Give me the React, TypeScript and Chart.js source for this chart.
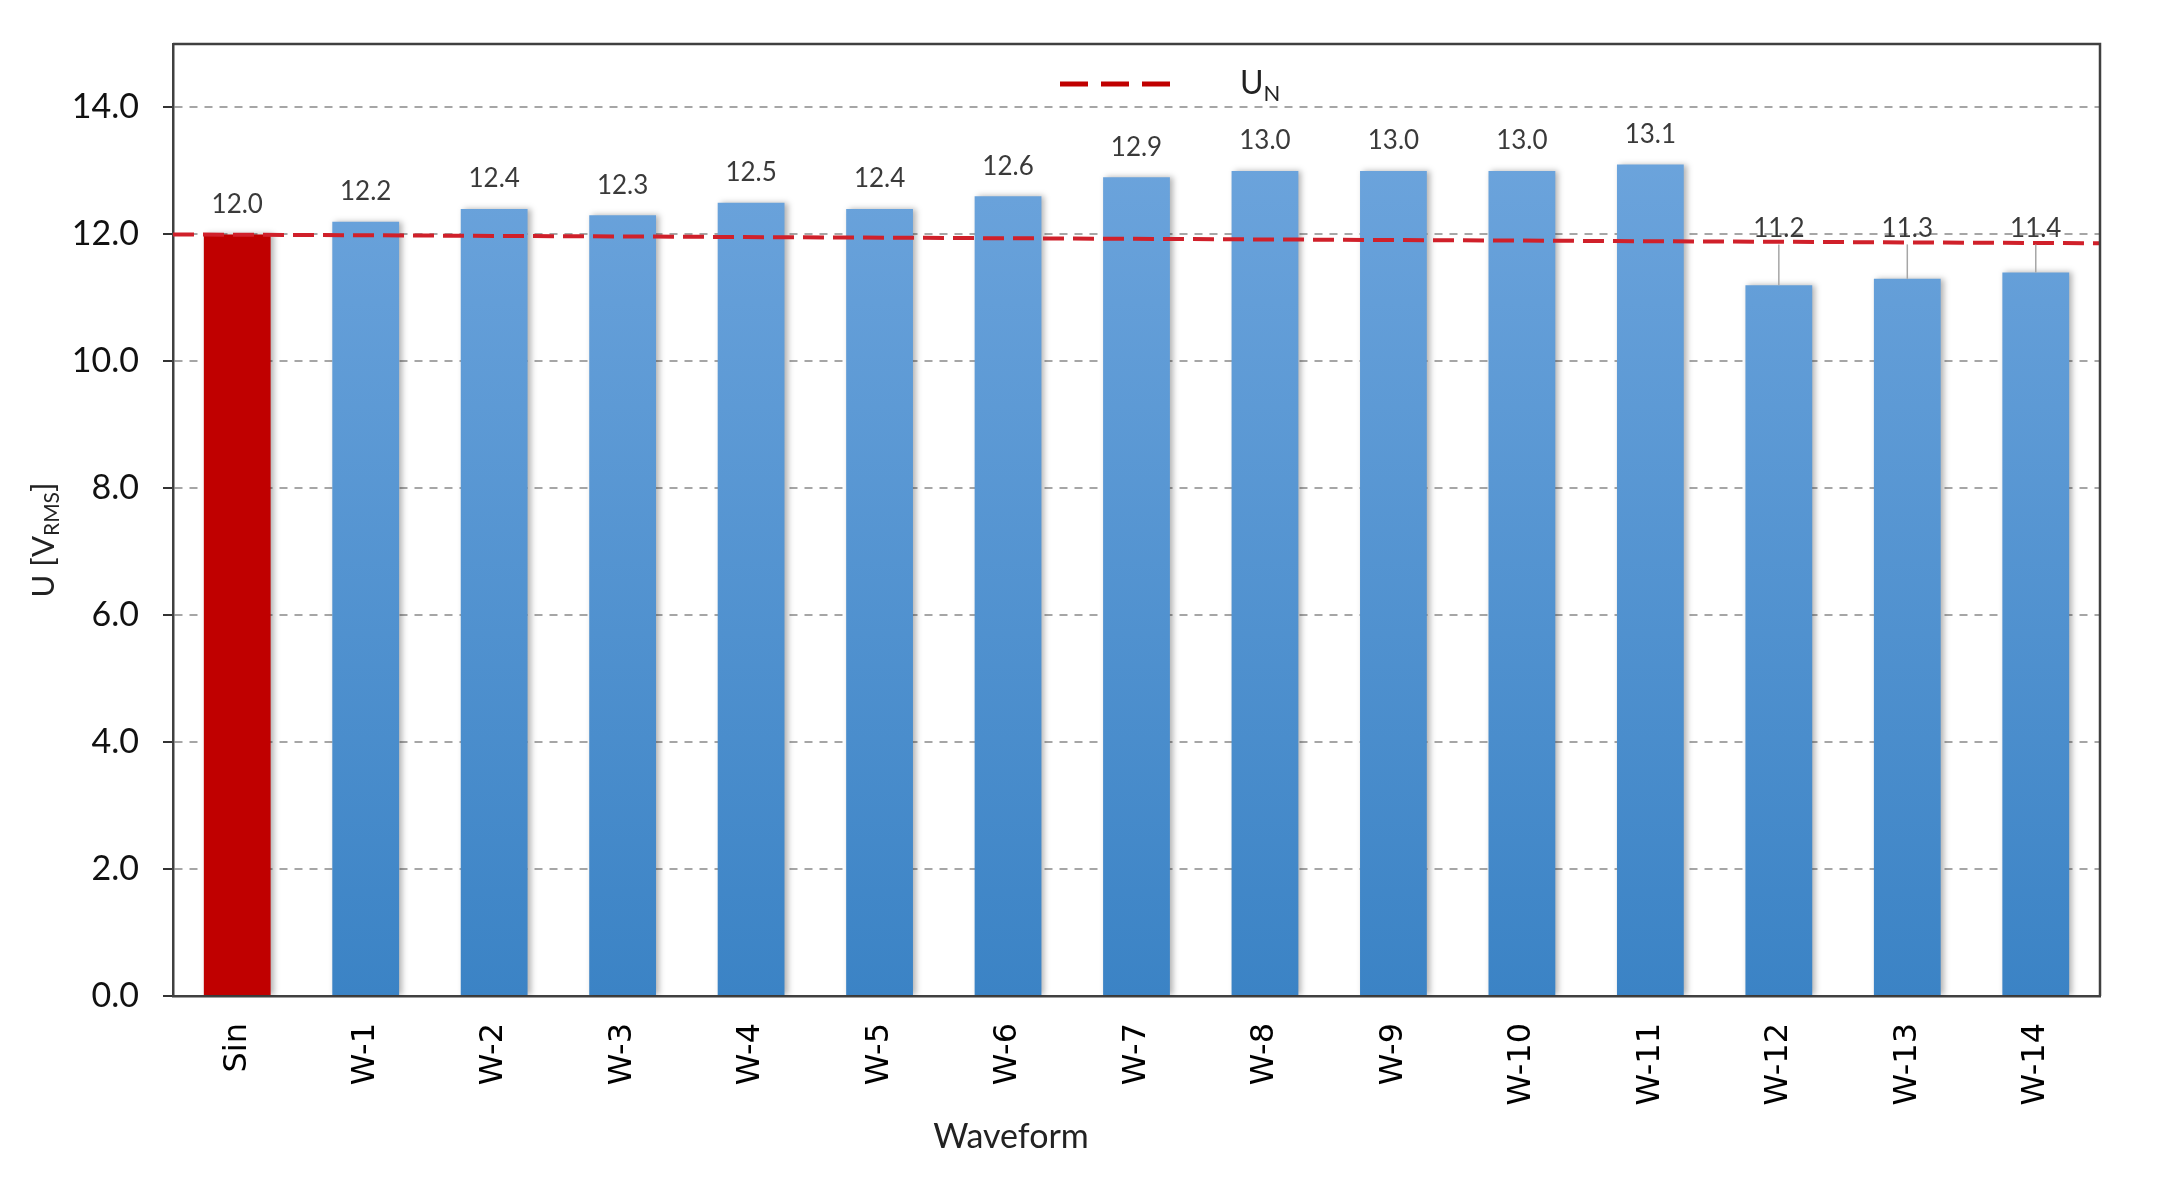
import React, { useEffect, useRef } from "react";
import { Chart, registerables } from "chart.js";

Chart.register(...registerables);

const categories = ["Sin", "W-1", "W-2", "W-3", "W-4", "W-5", "W-6", "W-7", "W-8", "W-9", "W-10", "W-11", "W-12", "W-13", "W-14"];
const voltages = [12.0, 12.2, 12.4, 12.3, 12.5, 12.4, 12.6, 12.9, 13.0, 13.0, 13.0, 13.1, 11.2, 11.3, 11.4];
const yTickValues = [0, 2, 4, 6, 8, 10, 12, 14];
const unLineX = [-0.5, 14.5];
const unLineY = [12.0, 11.86];
const nominalVoltage = 12.0;

const overlayPlugin = {
  id: "overlay",
  beforeDatasetDraw(chart: any, args: any) {
    if (args.index === 0) {
      const ctx = chart.ctx;
      ctx.save();
      ctx.shadowColor = "rgba(0,0,0,0.30)";
      ctx.shadowBlur = 6;
      ctx.shadowOffsetX = 3;
      ctx.shadowOffsetY = 0;
    }
  },
  afterDatasetDraw(chart: any, args: any) {
    if (args.index === 0) chart.ctx.restore();
  },
  afterDatasetsDraw(chart: any) {
    const ctx = chart.ctx;
    const meta = chart.getDatasetMeta(0);
    const yScale = chart.scales.y;
    ctx.save();
    ctx.font = "26px Lato";
    ctx.fillStyle = "#3A3A3A";
    ctx.textAlign = "center";
    ctx.textBaseline = "middle";
    meta.data.forEach((bar: any, i: number) => {
      const v = voltages[i];
      const text = v.toFixed(1);
      if (v < nominalVoltage - 0.3) {
        const ly = yScale.getPixelForValue(nominalVoltage) - 6;
        ctx.strokeStyle = "#A6A6A6";
        ctx.lineWidth = 1.5;
        ctx.beginPath();
        ctx.moveTo(bar.x, ly + 16);
        ctx.lineTo(bar.x, bar.y);
        ctx.stroke();
        ctx.fillText(text, bar.x, ly);
      } else {
        ctx.fillText(text, bar.x, bar.y - 30);
      }
    });
    ctx.restore();
  },
  afterDraw(chart: any) {
    const ctx = chart.ctx;
    const ca = chart.chartArea;
    ctx.save();
    // frame top & right
    ctx.strokeStyle = "#404040";
    ctx.lineWidth = 2.5;
    ctx.beginPath();
    ctx.moveTo(ca.left, ca.top);
    ctx.lineTo(ca.right, ca.top);
    ctx.lineTo(ca.right, ca.bottom);
    ctx.stroke();

    // legend
    ctx.strokeStyle = "#C00000";
    ctx.lineWidth = 5;
    ctx.setLineDash([28, 13]);
    ctx.beginPath();
    ctx.moveTo(1060, 84);
    ctx.lineTo(1170, 84);
    ctx.stroke();
    ctx.setLineDash([]);
    ctx.fillStyle = "#222";
    ctx.textBaseline = "middle";
    ctx.textAlign = "left";
    ctx.font = "32px Lato";
    ctx.fillText("U", 1240, 84);
    const uw = ctx.measureText("U").width;
    ctx.font = "22px Lato";
    ctx.fillText("N", 1240 + uw, 94);

    // x title
    ctx.font = "34px Lato";
    ctx.textAlign = "center";
    ctx.fillText("Waveform", 1011, 1137);

    // y title
    ctx.translate(44, 540);
    ctx.rotate(-Math.PI / 2);
    ctx.textAlign = "left";
    ctx.font = "31px Lato";
    const p1 = "U [V";
    const p3 = "]";
    const w1 = ctx.measureText(p1).width;
    const w3 = ctx.measureText(p3).width;
    ctx.font = "21px Lato";
    const w2 = ctx.measureText("RMS").width;
    let x = -(w1 + w2 + w3) / 2;
    ctx.font = "31px Lato";
    ctx.fillText(p1, x, 0);
    x += w1;
    ctx.font = "21px Lato";
    ctx.fillText("RMS", x, 8);
    x += w2;
    ctx.font = "31px Lato";
    ctx.fillText(p3, x, 0);
    ctx.restore();
  },
};

export default function App() {
  const canvasRef = useRef<HTMLCanvasElement | null>(null);

  useEffect(() => {
    const canvas = canvasRef.current;
    if (!canvas) return;
    const chart = new Chart(canvas, {
      type: "bar",
      data: {
        labels: categories,
        datasets: [
          {
            type: "bar",
            label: "U",
            data: voltages,
            order: 1,
            grouped: false,
            barPercentage: 0.52,
            categoryPercentage: 1,
            backgroundColor: (c: any) => {
              if (c.dataIndex === 0) return "#C00000";
              const ca = c.chart.chartArea;
              if (!ca) return "#5B9BD5";
              const g = c.chart.ctx.createLinearGradient(0, ca.top, 0, ca.bottom);
              g.addColorStop(0, "#72A8DF");
              g.addColorStop(1, "#3B83C5");
              return g;
            },
            borderWidth: 0,
          },
          {
            type: "line",
            label: "UN",
            xAxisID: "x2",
            order: 0,
            data: unLineX.map((xv, i) => ({ x: xv, y: unLineY[i] })),
            borderColor: "#D0202A",
            borderWidth: 4,
            borderDash: [21, 9],
            pointRadius: 0,
            fill: false,
          },
        ],
      } as any,
      options: {
        animation: false,
        responsive: false,
        devicePixelRatio: 1,
        layout: { padding: { top: 44, right: 69, left: 0, bottom: 0 } },
        plugins: { legend: { display: false }, tooltip: { enabled: false } },
        scales: {
          x: {
            type: "category",
            offset: true,
            grid: { display: false, drawTicks: false },
            border: { display: true, color: "#404040", width: 2.5 },
            ticks: {
              autoSkip: false,
              maxRotation: 90,
              minRotation: 90,
              padding: 27,
              color: "#000",
              font: { family: "DejaVu Sans", size: 32 },
            },
            afterFit: (s: any) => {
              s.height = 196;
              s.paddingLeft = 0;
              s.paddingRight = 0;
            },
          },
          x2: {
            type: "linear",
            axis: "x",
            position: "bottom",
            display: false,
            offset: false,
            grid: { offset: false },
            min: -0.5,
            max: 14.5,
          },
          y: {
            min: 0,
            max: 15,
            afterBuildTicks: (s: any) => {
              s.ticks = yTickValues.map((v) => ({ value: v }));
            },
            grid: {
              color: (c: any) => (c.tick && c.tick.value === 0 ? "rgba(0,0,0,0)" : "#A6A6A6"),
              lineWidth: 2,
              tickColor: "#333",
              tickLength: 10,
              tickWidth: 2,
            },
            border: { dash: [8, 7], color: "#404040", width: 2.5 },
            ticks: {
              padding: 24,
              color: "#111",
              font: { family: "Lato", size: 34 },
              callback: (v: any) => Number(v).toFixed(1),
            },
            afterFit: (s: any) => {
              s.width = 173;
              s.paddingTop = 0;
              s.paddingBottom = 0;
            },
          },
        },
      } as any,
      plugins: [overlayPlugin],
    });
    return () => chart.destroy();
  }, []);

  return (
    <div style={{ position: "fixed", left: 0, top: 0, width: 2169, height: 1192, background: "#fff" }}>
      <canvas ref={canvasRef} width={2169} height={1192} style={{ display: "block" }} />
    </div>
  );
}
